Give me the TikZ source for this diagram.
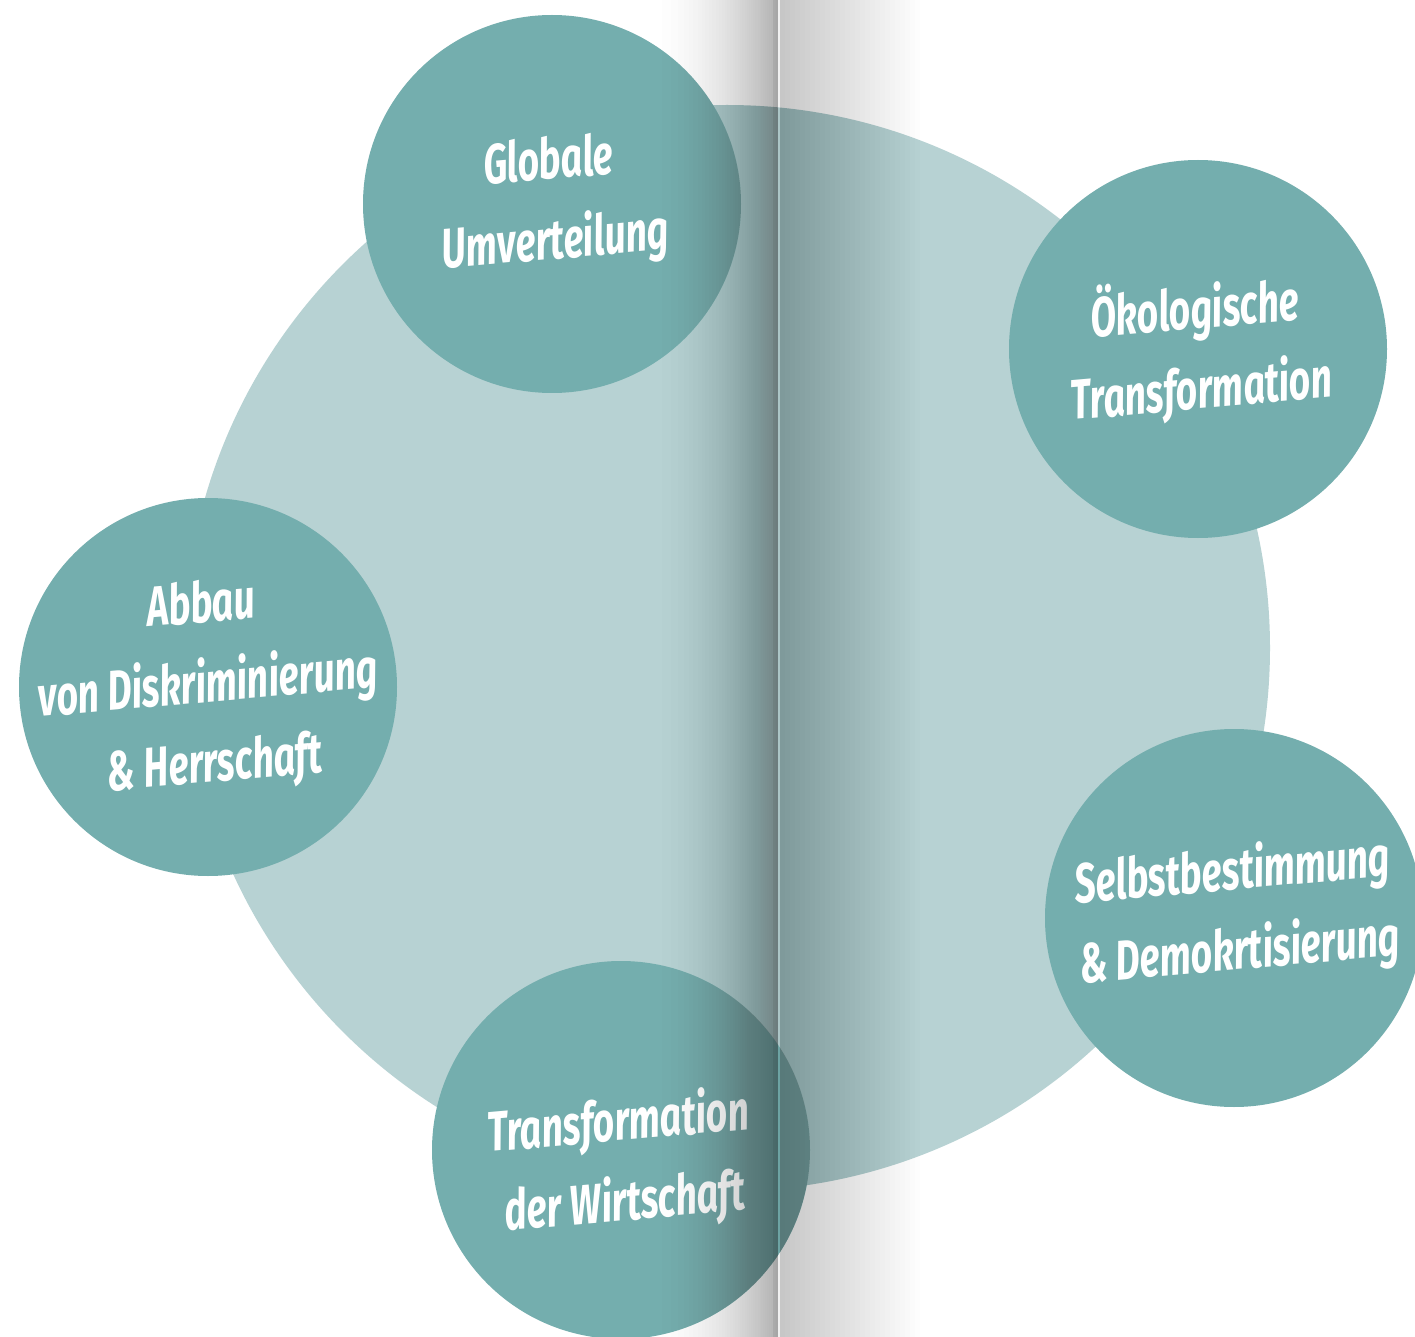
\documentclass[tikz,border=0pt]{standalone}
\usepackage{fontspec}
\newfontfamily\topicfont{Fira Sans}[FakeStretch=0.67]
\definecolor{bigteal}{RGB}{183,210,211}
\definecolor{topicteal}{RGB}{116,174,174}
\tikzset{
  topic/.style={circle, fill=topicteal, minimum size=189pt, inner sep=0pt},
  topiclabel/.style={text=white, align=center, rotate=5, inner sep=0pt,
    font=\topicfont\bfseries\itshape\fontsize{28}{40}\selectfont},
}
\begin{document}
\begin{tikzpicture}[x=0.5pt,y=0.5pt,yscale=-1,xscale=1]
\fill[white] (0,0) rectangle (1415,1337);
\useasboundingbox (0,0) rectangle (1415,1337);

%Big circle
\fill[bigteal] (727,648) circle [radius=543];

%Topics
\node[topic] (globale) at (552,204) {};
\node[topic] (oeko) at (1198,349) {};
\node[topic] (abbau) at (208,687) {};
\node[topic] (selbst) at (1234,918) {};
\node[topic] (wirtschaft) at (621,1150) {};

\node[topiclabel] (globaletext) at (globale) {Globale\\Umverteilung};
\node[topiclabel] (oekotext) at (oeko) {Ökologische\\Transformation};
\node[topiclabel] (abbautext) at (abbau) {Abbau\\von Diskriminierung\\\& Herrschaft};
\node[topiclabel] (selbsttext) at (1236,913) {Selbstbestimmung\\\& Demokrtisierung};
\node[topiclabel] (wirtschafttext) at (622,1164) {Transformation\\der Wirtschaft};

%Book fold shadow
\foreach \i in {1,...,40}
  \fill[black, opacity=0.0075] ({640+138*sqrt(\i/40)},0) rectangle (778,1337);
\fill[black, opacity=0.06] (773,0) rectangle (780,1337);
\foreach \i in {0,...,27}
  \fill[black, opacity=0.006] (780,0) rectangle (920-5*\i,1337);
\end{tikzpicture}
\end{document}
